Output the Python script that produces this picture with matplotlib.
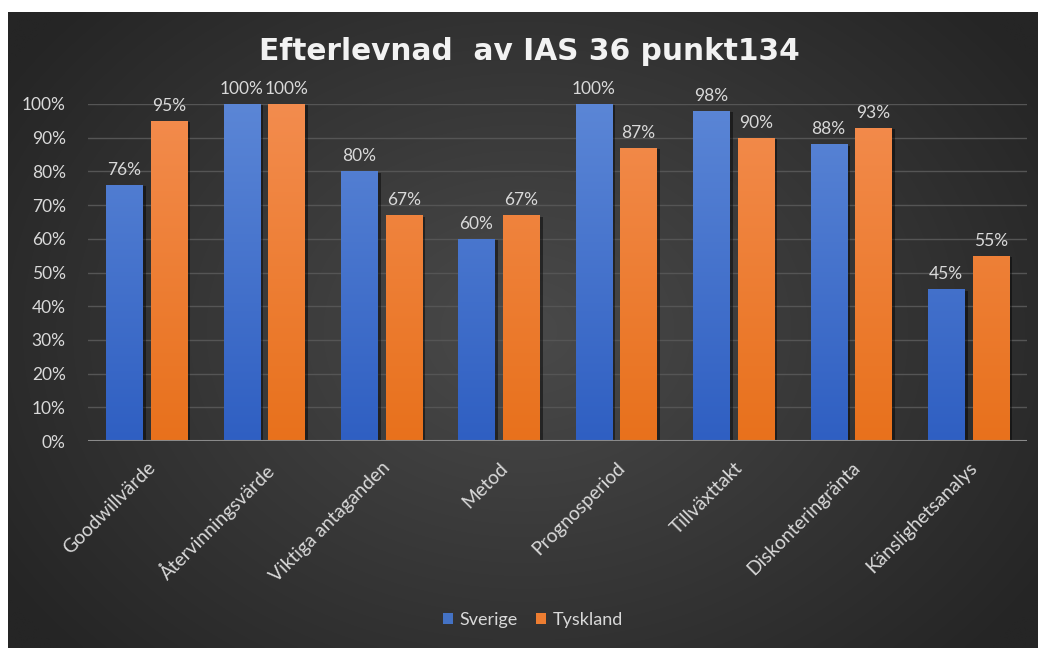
import numpy as np
import matplotlib
matplotlib.use("Agg")
import matplotlib.pyplot as plt
import matplotlib.patheffects as pe
from matplotlib.colors import LinearSegmentedColormap
from matplotlib.ticker import PercentFormatter

categories = ["Goodwillvärde", "Återvinningsvärde", "Viktiga antaganden", "Metod",
              "Prognosperiod", "Tillväxttakt", "Diskonteringränta", "Känslighetsanalys"]
sverige = [0.76, 1.00, 0.80, 0.60, 1.00, 0.98, 0.88, 0.45]
tyskland = [0.95, 1.00, 0.67, 0.67, 0.87, 0.90, 0.93, 0.55]
series_names = ["Sverige", "Tyskland"]
title = "Efterlevnad  av IAS 36 punkt134"

W, H = 1038, 648
fig = plt.figure(figsize=(W / 100, H / 100), dpi=100, facecolor="white")

# background panel with radial gradient
bg = fig.add_axes([8 / W, 0, (W - 8) / W, (H - 12) / H])
bg.set_axis_off()
ny, nx = 300, 500
yy, xx = np.mgrid[0:ny, 0:nx]
cx, cy = nx * 0.50, ny * 0.50
r = np.sqrt(((xx - cx) / (nx * 0.6)) ** 2 + ((yy - cy) / (ny * 0.75)) ** 2)
r = np.clip(r, 0, 1)
c_in = np.array([0x4a, 0x4a, 0x4a]) / 255
c_out = np.array([0x25, 0x25, 0x25]) / 255
img = c_in[None, None, :] * (1 - r[..., None]) + c_out[None, None, :] * r[..., None]
bg.imshow(img, aspect="auto", extent=[0, 1, 0, 1], interpolation="bilinear")
bg.set_xlim(0, 1)
bg.set_ylim(0, 1)

ax = fig.add_axes([88 / W, (H - 441) / H, (1027 - 88) / W, (441 - 104) / H])
ax.set_facecolor("none")
for s in ax.spines.values():
    s.set_visible(False)

x = np.arange(len(categories))
off = 0.19
bw = 0.307
shadow = [pe.SimplePatchShadow(offset=(2.5, -1), shadow_rgbFace="black", alpha=0.45), pe.Normal()]
b1 = ax.bar(x - off, sverige, bw, color="#4472C4", zorder=3, path_effects=shadow, label=series_names[0])
b2 = ax.bar(x + off, tyskland, bw, color="#ED7D31", zorder=3, path_effects=shadow, label=series_names[1])

cmap_b = LinearSegmentedColormap.from_list("b", ["#2F5FC2", "#5B86D6"])
cmap_o = LinearSegmentedColormap.from_list("o", ["#E8711C", "#F38C4E"])
grad = np.linspace(0, 1, 256).reshape(-1, 1)
for bars, cm in ((b1, cmap_b), (b2, cmap_o)):
    for p in bars:
        x0 = p.get_x()
        w = p.get_width()
        im = ax.imshow(grad, cmap=cm, origin="lower", aspect="auto",
                       extent=[x0, x0 + w, 0, 1], zorder=4, interpolation="bilinear")
        im.set_clip_path(p)

ax.set_xlim(-0.5, len(categories) - 0.5)
ax.set_ylim(0, 1)
ax.set_yticks(np.arange(0, 1.01, 0.1))
ax.yaxis.set_major_formatter(PercentFormatter(1.0, decimals=0))
ax.grid(axis="y", color="#555555", linewidth=1, zorder=0)
ax.axhline(0, color="#8a8a8a", linewidth=1.5, zorder=5)

txt = "#D9D9D9"
font = "Lato"
fs = 12.5
ax.tick_params(axis="both", length=0, colors=txt, labelsize=fs)
ax.tick_params(axis="y", pad=16)
for lab in ax.get_yticklabels():
    lab.set_fontfamily(font)
ax.set_xticks(x)
ax.set_xticklabels(categories, rotation=45, ha="right", va="top",
                   rotation_mode="anchor", fontsize=13.8, color=txt, fontfamily=font)
ax.tick_params(axis="x", pad=13)

for bars, vals in ((b1, sverige), (b2, tyskland)):
    for p, v in zip(bars, vals):
        ax.annotate(f"{round(v * 100)}%", (p.get_x() + p.get_width() / 2, v),
                    xytext=(0, 5), textcoords="offset points", ha="center", va="bottom",
                    fontsize=fs, color=txt, fontfamily=font, clip_on=False, zorder=6)

fig.text(529 / W, 1 - 52 / H, title, ha="center", va="center", fontsize=21.3,
         fontweight="bold", color="#F2F2F2", fontfamily="DejaVu Sans")

leg = fig.legend(handles=[b1, b2], labels=series_names, loc="center",
                 bbox_to_anchor=(533 / W, 1 - 620 / H), ncol=2, frameon=False,
                 handlelength=0.55, handleheight=0.55, handletextpad=0.4,
                 columnspacing=1.0, prop={"family": font, "size": 13})
for t in leg.get_texts():
    t.set_color(txt)
for h in leg.legend_handles:
    h.set_path_effects([])

fig.savefig("out.png", dpi=100, facecolor="white")
